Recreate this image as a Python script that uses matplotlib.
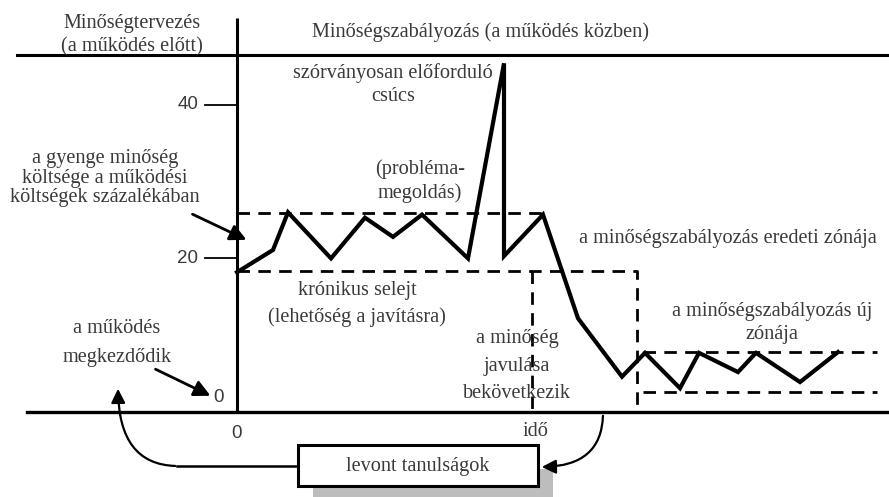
import matplotlib
matplotlib.use("Agg")
import matplotlib.pyplot as plt
from matplotlib.patches import FancyArrowPatch, Rectangle

# ---- data (time units, cost % of operating cost) ----
time = [0, 3.6, 5.1, 9.4, 12.8, 15.6, 18.5, 23.1, 26.7, 26.7, 30.6, 34.1,
        38.5, 40.8, 44.3, 46.2, 50.1, 51.9, 56.3, 60.1]
cost = [18.2, 21.1, 26.0, 20.0, 25.3, 22.8, 25.7, 20.0, 45.4, 20.3, 25.7, 12.2,
        4.6, 7.7, 3.1, 7.7, 5.2, 7.7, 3.9, 7.8]

orig_zone_upper = 25.9
orig_zone_lower = 18.4
orig_zone_end = 31.0
lower_zone_end = 40.0
improve_start = 29.5
new_zone_upper = 7.8
new_zone_lower = 2.6
new_zone_start = 40.6
new_zone_end = 64.0

yticks = [20, 40]
ytick_labels = ["20", "40"]

# ---- layout helpers (pixel -> data) ----
W, H = 889, 497
X0PX, XS = 237, 10.0
Y0PX, YS = 412, 7.68


def P(px, py):
    return ((px - X0PX) / XS, (Y0PX - py) / YS)


fig = plt.figure(figsize=(W / 100, H / 100), dpi=100)
ax = fig.add_axes([0, 0, 1, 1])
ax.set_xlim(P(0, 0)[0], P(W, 0)[0])
ax.set_ylim(P(0, H)[1], P(0, 0)[1])
ax.axis("off")

SERIF = ["Liberation Serif", "DejaVu Serif"]
SANS = ["Liberation Sans", "DejaVu Sans"]
TC = "#3a3a3a"
FS = 14.6

# axes lines
ax.plot([0, 0], [P(0, 18)[1], 0], color="black", lw=2.2, solid_capstyle="butt")
ax.plot([P(27, 0)[0], P(W, 0)[0]], [0, 0], color="black", lw=2.4)
ax.plot([P(17, 0)[0], P(W, 0)[0]], [P(0, 55)[1]] * 2, color="black", lw=2.2)

# y ticks
for v, lab in zip(yticks, ytick_labels):
    ax.plot([P(205, 0)[0], 0], [v, v], color="black", lw=1.3)
    ax.text(P(198, 0)[0], v, lab, ha="right", va="center", fontsize=13.5,
            family=SANS, color=TC)
ax.text(*P(219, 398), "0", ha="center", va="center", fontsize=13.5, family=SANS, color=TC)
ax.text(*P(236, 433), "0", ha="center", va="center", fontsize=13.5, family=SANS, color=TC)
ax.text(*P(535, 432), "idő", ha="center", va="center", fontsize=FS, family=SERIF, color=TC)

# zones (dashed)
dash = dict(color="black", lw=2.0, linestyle=(0, (4.5, 3)))
ax.plot([0, orig_zone_end], [orig_zone_upper] * 2, **dash)
ax.plot([0, lower_zone_end, lower_zone_end], [orig_zone_lower, orig_zone_lower, 0], **dash)
ax.plot([improve_start, improve_start], [orig_zone_lower, 0], **dash)
ax.plot([new_zone_start, new_zone_end], [new_zone_upper] * 2, **dash)
ax.plot([new_zone_start, new_zone_end], [new_zone_lower] * 2, **dash)

# main cost line
ax.plot(time, cost, color="black", lw=3.0, solid_joinstyle="miter", zorder=5)

# texts
def T(px, py, s, **kw):
    d = dict(ha="center", va="center", fontsize=FS, family=SERIF, color=TC,
             linespacing=1.0)
    d.update(kw)
    ax.text(*P(px, py), s, **d)

T(132, 35, "Minőségtervezés\n(a működés előtt)", linespacing=1.3)
T(480, 32, "Minőségszabályozás (a működés közben)")
T(105, 178, "a gyenge minőség\nköltsége a működési\nköltségek százalékában", linespacing=1.02)
T(393, 85, "szórványosan előforduló\ncsúcs", linespacing=1.28)
T(420, 181, "(probléma-\nmegoldás)", linespacing=1.32)
T(728, 238, "a minőségszabályozás eredeti zónája")
T(357, 304, "krónikus selejt\n(lehetőség a javításra)", linespacing=1.5)
T(517, 366, "a minőség\njavulása\nbekövetkezik", linespacing=1.62)
T(772, 323, "a minőségszabályozás új\nzónája", linespacing=1.28)
T(117, 343, "a működés\nmegkezdődik", linespacing=1.72)

# straight arrows
for a, b in [((190, 213), (249, 241)), ((153, 368), (213, 397))]:
    ax.add_patch(FancyArrowPatch(P(*a), P(*b), arrowstyle="-|>,head_length=0.7,head_width=0.35",
                                 mutation_scale=14, color="black", lw=2.0, zorder=6))

# lessons box with shadow
x1, y1 = P(298, 486)
x2, y2 = P(538, 445)
sx, sy = P(313, 510)
ax.add_patch(Rectangle((sx, sy), x2 - x1, y2 - y1, facecolor="#bdbdbd",
                       edgecolor="none", zorder=2, clip_on=False))
ax.add_patch(Rectangle((x1, y1), x2 - x1, y2 - y1, facecolor="white",
                       edgecolor="black", lw=2.2, zorder=3))
T(418, 466, "levont tanulságok", zorder=4)

# curved arrows
ax.add_patch(FancyArrowPatch(P(603, 413), P(539, 467),
                             connectionstyle="angle3,angleA=-90,angleB=0",
                             arrowstyle="-|>,head_length=0.7,head_width=0.35",
                             mutation_scale=12, color="black", lw=1.6, zorder=6))
ax.plot([P(298, 0)[0], P(177, 0)[0]], [P(0, 466)[1]] * 2, color="black", lw=1.8)
ax.add_patch(FancyArrowPatch(P(178, 466), P(118, 386),
                             connectionstyle="angle3,angleA=0,angleB=90",
                             arrowstyle="-|>,head_length=0.7,head_width=0.35",
                             mutation_scale=12, color="black", lw=1.6, zorder=6))

fig.savefig("out.png", dpi=100)
